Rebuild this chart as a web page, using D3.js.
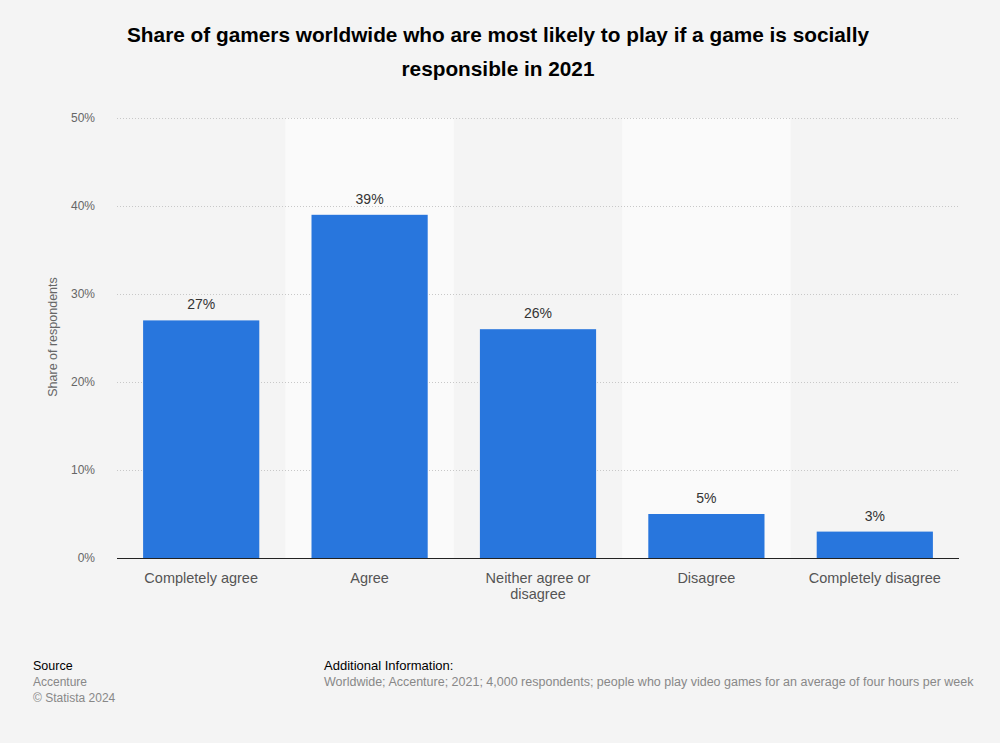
<!DOCTYPE html>
<html><head><meta charset="utf-8">
<script src="https://cdn.jsdelivr.net/npm/d3@7"></script>
<style>body{margin:0;background:#f4f4f4;}svg{display:block;font-family:"Liberation Sans",Arial,sans-serif;}</style>
</head><body>
<svg id="c" width="1000" height="743"></svg>
<script>
const categories = ["Completely agree", "Agree", "Neither agree or disagree", "Disagree", "Completely disagree"];
const categoryLines = [["Completely agree"], ["Agree"], ["Neither agree or", "disagree"], ["Disagree"], ["Completely disagree"]];
const values = [27, 39, 26, 5, 3];
const valueLabels = ["27%", "39%", "26%", "5%", "3%"];
const yTicks = [0, 10, 20, 30, 40, 50];

const svg = d3.select("#c");
svg.append("rect").attr("width",1000).attr("height",743).attr("fill","#f4f4f4");

const m = {left:117, right:959, top:118, bottom:558};
const x = d3.scaleBand().domain(categories).range([m.left, m.right]).paddingInner(0.31).paddingOuter(0.155);
const xb = d3.scaleBand().domain(categories).range([m.left, m.right]);
const y = d3.scaleLinear().domain([0,50]).range([m.bottom, m.top]);

// alternating bands
svg.append("g").selectAll("rect").data(categories.filter((d,i)=>i%2===1)).join("rect")
  .attr("x", d=>xb(d)).attr("width", xb.bandwidth())
  .attr("y", m.top).attr("height", m.bottom-m.top).attr("fill","#fafafa");

// gridlines
svg.append("g").selectAll("line").data(yTicks.filter(t=>t>0)).join("line")
  .attr("x1", m.left).attr("x2", m.right).attr("y1", d=>y(d)+0.5).attr("y2", d=>y(d)+0.5)
  .attr("stroke","#c8c8c8").attr("stroke-width",1).attr("stroke-dasharray","1,2");

// y tick labels
svg.append("g").selectAll("text").data(yTicks).join("text")
  .attr("x", 95).attr("y", d=>y(d)+4).attr("text-anchor","end")
  .attr("font-size",12).attr("fill","#666").text(d=>d+"%");

// y axis title
svg.append("text").attr("transform","translate(57,337) rotate(-90)").attr("text-anchor","middle")
  .attr("font-size",12.5).attr("fill","#666").text("Share of respondents");

// bars
svg.append("g").selectAll("rect").data(values).join("rect")
  .attr("x",(d,i)=>x(categories[i])).attr("width",x.bandwidth())
  .attr("y",d=>y(d)).attr("height",d=>m.bottom-y(d)).attr("fill","#2876dd");

// value labels
svg.append("g").selectAll("text").data(values).join("text")
  .attr("x",(d,i)=>x(categories[i])+x.bandwidth()/2).attr("y",d=>y(d)-11)
  .attr("text-anchor","middle").attr("font-size",14).attr("fill","#333").text((d,i)=>valueLabels[i]);

// x axis line
svg.append("line").attr("x1",m.left).attr("x2",m.right).attr("y1",m.bottom+0.5).attr("y2",m.bottom+0.5)
  .attr("stroke","#222").attr("stroke-width",1);

// category labels
const cl = svg.append("g").selectAll("text").data(categories).join("text")
  .attr("x",d=>xb(d)+xb.bandwidth()/2).attr("y",583).attr("text-anchor","middle")
  .attr("font-size",14.5).attr("fill","#555");
cl.each(function(d,i){
  const t=d3.select(this);
  categoryLines[i].forEach((ln,j)=>t.append("tspan").attr("x",xb(d)+xb.bandwidth()/2).attr("dy",j?16:0).text(ln));
});

// title
svg.append("text").attr("x",498).attr("y",42).attr("text-anchor","middle").attr("font-size",20.8)
  .attr("font-weight","bold").attr("fill","#000").text("Share of gamers worldwide who are most likely to play if a game is socially");
svg.append("text").attr("x",498).attr("y",76).attr("text-anchor","middle").attr("font-size",20.8)
  .attr("font-weight","bold").attr("fill","#000").text("responsible in 2021");

// footer
svg.append("text").attr("x",33).attr("y",670).attr("font-size",12.5).attr("fill","#000").text("Source");
svg.append("text").attr("x",33).attr("y",686).attr("font-size",12).attr("fill","#888").text("Accenture");
svg.append("text").attr("x",33).attr("y",702).attr("font-size",12).attr("fill","#888").text("© Statista 2024");
svg.append("text").attr("x",324).attr("y",670).attr("font-size",13).attr("fill","#000").text("Additional Information:");
svg.append("text").attr("x",324).attr("y",686).attr("font-size",12.5).attr("fill","#888")
  .text("Worldwide; Accenture; 2021; 4,000 respondents; people who play video games for an average of four hours per week");
</script>
</body></html>
